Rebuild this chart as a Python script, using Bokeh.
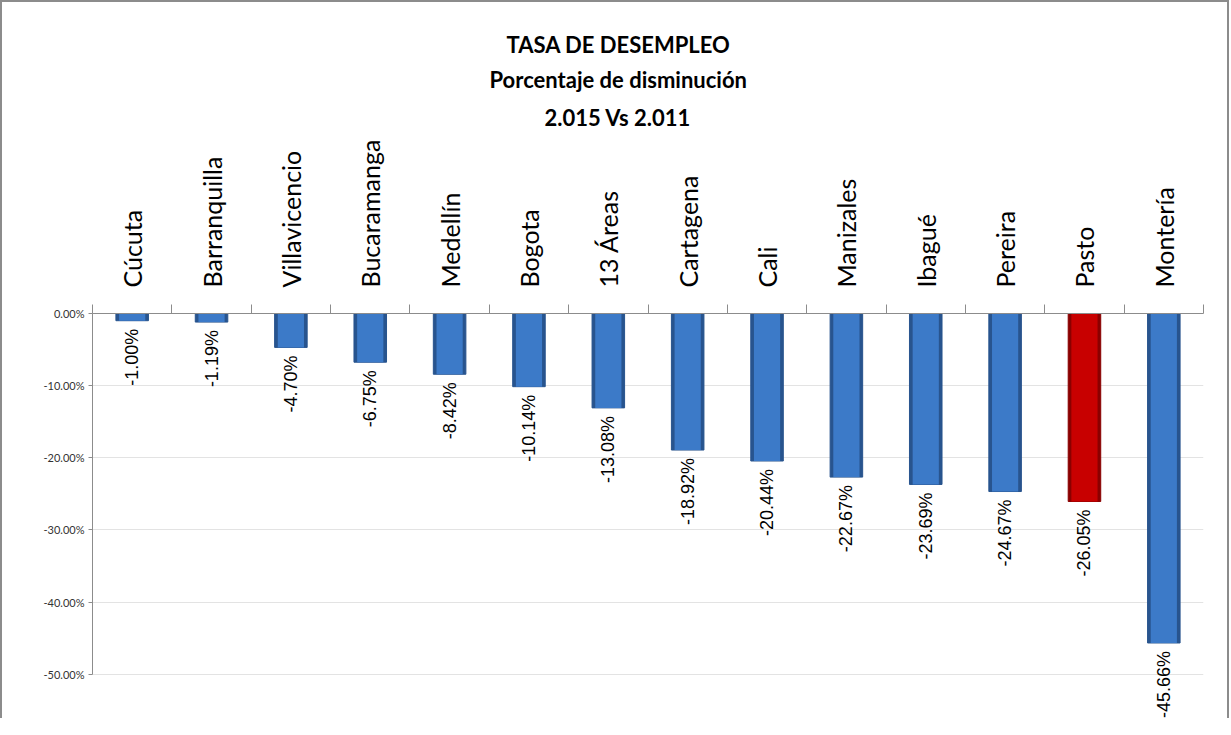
import math
from bokeh.plotting import figure
from bokeh.models import Range1d, FixedTicker, PrintfTickFormatter, Title, ColumnDataSource
from bokeh.core.properties import value
from bokeh.embed import file_html
from bokeh.resources import INLINE

# ---- data ----
categories = ["Cúcuta", "Barranquilla", "Villavicencio", "Bucaramanga", "Medellín",
              "Bogota", "13 Áreas", "Cartagena", "Cali", "Manizales", "Ibagué",
              "Pereira", "Pasto", "Montería"]
values = [-1.00, -1.19, -4.70, -6.75, -8.42, -10.14, -13.08, -18.92, -20.44,
          -22.67, -23.69, -24.67, -26.05, -45.66]
highlight = "Pasto"
y_ticks = [0, -10, -20, -30, -40, -50]
title_lines = ["TASA DE DESEMPLEO", "Porcentaje de disminución", "2.015 Vs 2.011"]

n = len(categories)
centers = [i + 0.5 for i in range(n)]
bounds_x = list(range(n + 1))
labels = ["%.2f%%" % v for v in values]
fill = ["#C80000" if c == highlight else "#3C7AC8" for c in categories]
edge = ["#8A0000" if c == highlight else "#28548E" for c in categories]

src = ColumnDataSource(dict(x=centers, top=[0] * n, bottom=values, label=labels,
                            fill=fill, edge=edge, name=categories))

p = figure(width=1229, height=718, x_range=Range1d(0, n), y_range=Range1d(-56.4, 0),
           x_axis_location="above", y_axis_location="left",
           toolbar_location=None, output_backend="svg",
           min_border_left=90, min_border_right=28, min_border_top=311, min_border_bottom=0)
p.styles = {"border-left": "2px solid #8c8c8c", "border-top": "2px solid #8c8c8c",
            "border-right": "2px solid #8c8c8c"}
p.outline_line_color = None
p.background_fill_color = "white"
p.border_fill_color = "white"

# bars
p.vbar(x="x", top="top", bottom="bottom", width=0.41, source=src,
       fill_color="edge", line_color="edge", line_width=1)
p.vbar(x="x", top="top", bottom="bottom", width=0.33, source=src,
       fill_color="fill", line_color=None)

# value labels (rotated)
p.text(x="x", y="bottom", text="label", source=src, angle=math.pi / 2,
       text_align="right", text_baseline="middle", y_offset=8,
       text_font=value("Liberation Sans"), text_font_size="18px", text_color="black")

# x axis above (category labels)
xa = p.xaxis[0]
xa.ticker = FixedTicker(ticks=centers, minor_ticks=bounds_x)
xa.major_label_overrides = {c: name for c, name in zip(centers, categories)}
xa.major_label_orientation = math.pi / 2
xa.major_tick_line_color = None
xa.major_tick_out = 0
xa.major_tick_in = 0
xa.minor_tick_out = 9
xa.minor_tick_in = 0
xa.minor_tick_line_color = "#8c8c8c"
xa.axis_line_color = "#8c8c8c"
xa.major_label_standoff = 17
xa.major_label_text_font = "Lato"
xa.major_label_text_font_size = "25px"
xa.major_label_text_color = "black"

# y axis
ya = p.yaxis[0]
ya.ticker = FixedTicker(ticks=y_ticks)
ya.formatter = PrintfTickFormatter(format="%.2f%%")
ya.bounds = (-50, 0)
ya.axis_line_color = "#8c8c8c"
ya.major_tick_line_color = "#8c8c8c"
ya.major_tick_out = 4
ya.major_tick_in = 0
ya.minor_tick_line_color = None
ya.major_label_text_font = "Lato"
ya.major_label_text_font_size = "11px"
ya.major_label_text_color = "#333333"
ya.major_label_standoff = 4

p.xgrid.visible = False
p.ygrid.grid_line_color = "#e3e3e3"
p.ygrid.grid_line_width = 1

# title lines (closest to frame first); left-aligned with offsets so that
# the block is centred on the whole chart rather than on the plot frame
title_offsets = {"TASA DE DESEMPLEO": 414, "Porcentaje de disminución": 397,
                 "2.015 Vs 2.011": 452}
for i, line in enumerate(reversed(title_lines)):
    p.add_layout(Title(text=line, align="left", offset=title_offsets[line], text_font="Lato",
                       text_font_size="22px", text_font_style="bold",
                       text_color="black", standoff=12 if i == 0 else 6), "above")

open("out.html", "w").write(file_html(p, INLINE))
